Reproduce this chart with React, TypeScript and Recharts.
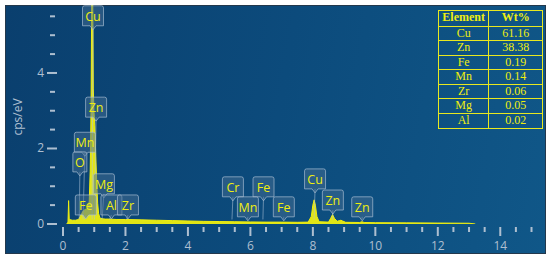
import {
  Area,
  ComposedChart,
  ReferenceDot,
  ReferenceLine,
  XAxis,
  YAxis,
} from "recharts";

// EDS spectrum, energy in keV and counts in cps/eV
const energies = [
  0.12, 0.16, 0.18, 0.2, 0.3, 0.4, 0.5, 0.55, 0.6, 0.65, 0.7, 0.75, 0.8, 0.84,
  0.87, 0.9, 0.92, 0.95, 0.97, 0.99, 1.02, 1.05, 1.08, 1.11, 1.14, 1.18, 1.25,
  1.35, 1.5, 1.7, 2.0, 2.5, 3.0, 3.5, 4.0, 4.5, 5.0, 5.5, 6.0, 6.5, 7.0, 7.5,
  7.85, 7.95, 8.0, 8.04, 8.08, 8.13, 8.2, 8.5, 8.57, 8.63, 8.69, 8.78, 8.85,
  8.9, 8.95, 9.05, 9.5, 9.57, 9.64, 10.0, 11.0, 12.0, 13.0, 13.2,
];
const counts = [
  0, 0.05, 0.62, 0.12, 0.1, 0.1, 0.12, 0.2, 0.28, 0.35, 0.38, 0.4, 0.42, 0.6,
  1.4, 3.2, 6.2, 6.2, 3.6, 3.0, 2.6, 1.8, 1.1, 0.55, 0.28, 0.16, 0.14, 0.13,
  0.13, 0.12, 0.12, 0.11, 0.1, 0.09, 0.08, 0.07, 0.065, 0.06, 0.055, 0.05, 0.05,
  0.045, 0.05, 0.2, 0.5, 0.64, 0.5, 0.2, 0.06, 0.05, 0.15, 0.25, 0.15, 0.07,
  0.09, 0.1, 0.08, 0.045, 0.04, 0.06, 0.04, 0.035, 0.03, 0.025, 0.02, 0,
];

const xTicks = [
  0, 0.5, 1, 1.5, 2, 2.5, 3, 3.5, 4, 4.5, 5, 5.5, 6, 6.5, 7, 7.5, 8, 8.5, 9,
  9.5, 10, 10.5, 11, 11.5, 12, 12.5, 13, 13.5, 14, 14.5, 15,
];
const yTicks = [0, 0.5, 1, 1.5, 2, 2.5, 3, 3.5, 4, 4.5, 5, 5.5];
const xLabeled = [0, 2, 4, 6, 8, 10, 12, 14];
const yLabeled = [0, 2, 4];

// peak markers: element, line energy, where the tag sits (keV, cps/eV)
const peakElements = ["Cu", "Zn", "Mn", "O", "Mg", "Fe", "Al", "Zr", "Cr", "Fe", "Mn", "Fe", "Cu", "Zn", "Zn"];
const peakLines = [0.93, 1.01, 0.64, 0.52, 1.25, 0.7, 1.49, 2.04, 5.41, 6.4, 5.9, 7.06, 8.04, 8.63, 9.57];
const tagEnergies = [0.96, 1.06, 0.7, 0.54, 1.31, 0.73, 1.55, 2.08, 5.44, 6.42, 5.92, 7.07, 8.07, 8.64, 9.58];
const tagLevels = [5.25, 2.83, 1.9, 1.38, 0.8, 0.24, 0.24, 0.24, 0.72, 0.72, 0.19, 0.19, 0.93, 0.37, 0.19];

const tableElements = ["Cu", "Zn", "Fe", "Mn", "Zr", "Mg", "Al"];
const tableWt = ["61.16", "38.38", "0.19", "0.14", "0.06", "0.05", "0.02"];

const spectrum = energies.map((e, i) => ({ e, c: counts[i] }));

const tickColor = "#aebfd0";
const yellow = "#eeee10";
const font = "'Open Sans', 'DejaVu Sans', sans-serif";

const XTick = (props: any) => {
  const { x, y, payload } = props;
  const major = xLabeled.includes(payload.value);
  return (
    <g>
      <rect x={x - 1} y={y + 3} width={2} height={major ? 9 : 5} fill={tickColor} />
      {major && (
        <text x={x} y={y + 26} textAnchor="middle" fill={tickColor} fontSize={12} fontFamily={font}>
          {payload.value}
        </text>
      )}
    </g>
  );
};

const YTick = (props: any) => {
  const { x, y, payload } = props;
  const major = yLabeled.includes(payload.value);
  return (
    <g>
      {major ? (
        <rect x={x - 16} y={y - 1} width={10} height={2} fill={tickColor} />
      ) : (
        <rect x={x - 13} y={y - 1} width={5} height={2} fill={tickColor} />
      )}
      {major && (
        <text x={x - 19} y={y + 4} textAnchor="end" fill={tickColor} fontSize={12} fontFamily={font}>
          {payload.value}
        </text>
      )}
    </g>
  );
};

const Tag = ({ cx, cy, name }: any) => {
  const w = name.length > 1 ? 21 : 14;
  const h = 20;
  const left = cx - w / 2;
  const top = cy - h;
  return (
    <g>
      <path
        d={`M${left},${top + 2} Q${left},${top} ${left + 2},${top} L${left + w - 2},${top} Q${left + w},${top} ${left + w},${top + 2} L${left + w},${cy} L${cx + 3},${cy} L${cx},${cy + 4} L${cx - 3},${cy} L${left},${cy} Z`}
        fill="rgba(70,110,145,0.5)"
        stroke="rgba(175,195,215,0.65)"
        strokeWidth={1}
      />
      <text x={cx} y={cy - 5} textAnchor="middle" fill={yellow} fontSize={12.5} fontFamily={font}>
        {name}
      </text>
    </g>
  );
};

const cell = {
  border: "1px solid #e8e820",
  padding: 0,
  textAlign: "center" as const,
  height: 13.6,
  lineHeight: "13.6px",
};

export default function App() {
  return (
    <div style={{ position: "absolute", left: 0, top: 0, width: 550, height: 260, background: "#ffffff" }}>
      <div
        style={{
          position: "absolute",
          left: 5,
          top: 5,
          width: 539,
          height: 247,
          border: "1px solid #23384c",
          background: "linear-gradient(100deg, #0a3f6e 0%, #0c4b7c 50%, #105788 100%)",
        }}
      />
      <div
        style={{
          position: "absolute",
          left: 9,
          top: 117,
          transform: "translate(-50%, -50%) rotate(-90deg)",
          transformOrigin: "center",
          color: tickColor,
          fontFamily: font,
          fontSize: 12,
          whiteSpace: "nowrap",
          marginLeft: 8,
        }}
      >
        cps/eV
      </div>
      <div style={{ position: "absolute", left: 0, top: 0 }}>
        <ComposedChart width={550} height={260} data={spectrum} margin={{ top: 5, right: 6, bottom: 0, left: 0 }}>
          <XAxis
            dataKey="e"
            type="number"
            domain={[0, 15.4]}
            ticks={xTicks}
            allowDataOverflow
            axisLine={false}
            tickLine={false}
            tickSize={0}
            tickMargin={0}
            height={36}
            interval={0}
            tick={<XTick />}
          />
          <YAxis
            type="number"
            domain={[0, 5.8]}
            ticks={yTicks}
            allowDataOverflow
            axisLine={false}
            tickLine={false}
            tickSize={0}
            tickMargin={0}
            width={63}
            interval={0}
            tick={<YTick />}
          />
          <Area
            type="linear"
            dataKey="c"
            stroke={yellow}
            strokeWidth={1}
            fill={yellow}
            fillOpacity={0.95}
            isAnimationActive={false}
            dot={false}
            activeDot={false}
          />
          {peakElements.map((el, i) => (
            <ReferenceLine
              key={`ln-${i}`}
              segment={[
                { x: tagEnergies[i], y: tagLevels[i] },
                { x: peakLines[i], y: 0.12 },
              ]}
              stroke="rgba(175,195,215,0.55)"
              strokeWidth={1}
            />
          ))}
          {peakElements.map((el, i) => (
            <ReferenceDot
              key={`tag-${i}`}
              x={tagEnergies[i]}
              y={tagLevels[i]}
              r={0}
              shape={(p: any) => <Tag cx={p.cx} cy={p.cy} name={el} />}
            />
          ))}
        </ComposedChart>
      </div>
      <table
        style={{
          position: "absolute",
          left: 438,
          top: 10,
          width: 105,
          borderCollapse: "collapse",
          fontFamily: "'Liberation Serif', 'Times New Roman', serif",
          fontSize: 12,
          color: yellow,
        }}
      >
        <tbody>
          <tr>
            <td style={{ ...cell, width: 50, fontWeight: "bold", height: 14.5 }}>Element</td>
            <td style={{ ...cell, width: 55, fontWeight: "bold", height: 14.5 }}>Wt%</td>
          </tr>
          {tableElements.map((el, i) => (
            <tr key={el}>
              <td style={cell}>{el}</td>
              <td style={cell}>{tableWt[i]}</td>
            </tr>
          ))}
        </tbody>
      </table>
    </div>
  );
}
